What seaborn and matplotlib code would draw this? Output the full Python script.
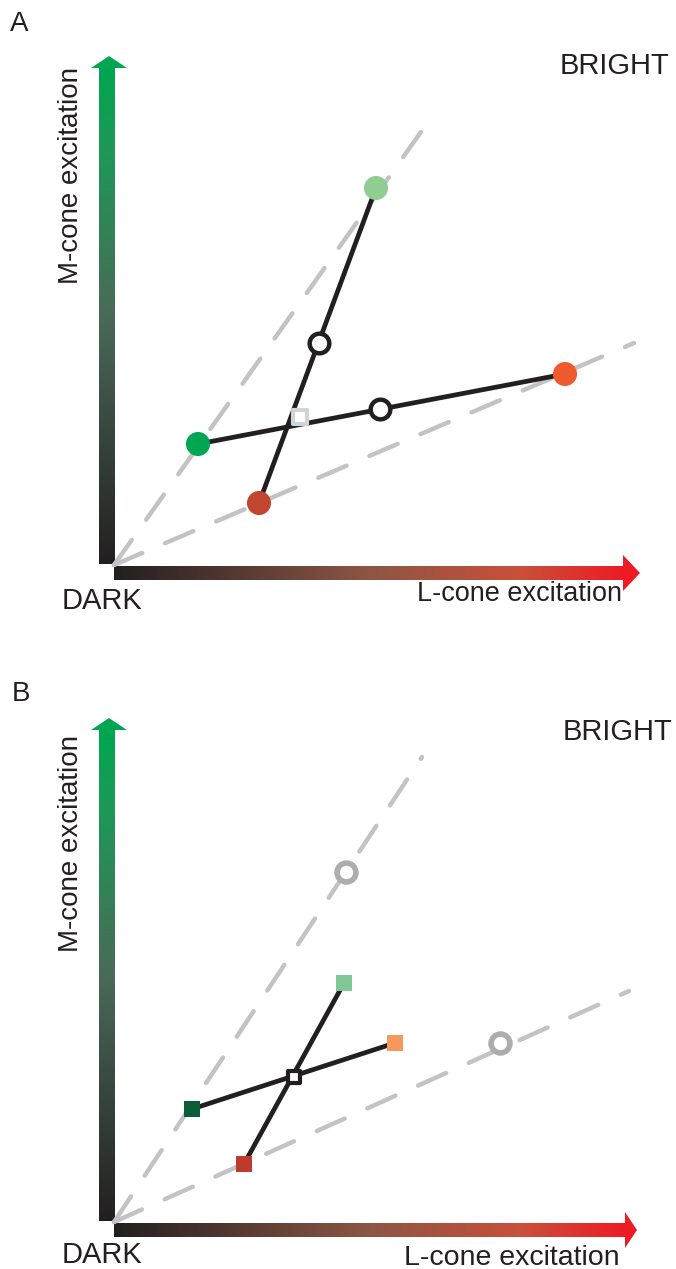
import numpy as np
import matplotlib.pyplot as plt
from matplotlib.colors import LinearSegmentedColormap
import seaborn as sns

sns.set_theme(style="white")
plt.rcParams['font.family'] = ['Liberation Sans', 'DejaVu Sans']

# ---------------- data (pixel units measured from the DARK corner) ----------------
# x = L-cone excitation, y = M-cone excitation

# panel A : two pairs of coloured lights, joined by black lines
a_dot_x = [262, 84, 145, 451]
a_dot_y = [377, 121, 62, 191]
a_dot_colors = ["#90cd90", "#00a651", "#c1452f", "#f05a2f"]
a_pairs = [(0, 2), (1, 3)]
a_mid_x = [205, 266]
a_mid_y = [222, 156]
a_cross_x = [186]
a_cross_y = [148]
a_ray_x = [314, 520]
a_ray_y = [443, 222]

# panel B : squares, the crossing square and the two grey "ghost" circles
b_sq_x = [78, 130, 230, 281]
b_sq_y = [113, 58, 239, 179]
b_sq_colors = ["#0b5e35", "#c0392d", "#80c896", "#f5995c"]
b_pairs = [(0, 3), (1, 2)]
b_cross_x = [180]
b_cross_y = [145]
b_ghost_x = [232, 386]
b_ghost_y = [350, 179]
b_ghost_from = [2, 3]  # which square each dotted line starts at
b_ray_x = [308, 515]
b_ray_y = [465, 231]

GREY = "#c3c3c5"
INK = "#231f20"
cmap_L = LinearSegmentedColormap.from_list(
    "L", [(0, "#231f20"), (0.5, "#8c5645"), (0.8, "#c9503a"), (1, "#ed1c24")])
cmap_M = LinearSegmentedColormap.from_list(
    "M", [(0, "#231f20"), (0.5, "#4a6a58"), (0.85, "#1c9a57"), (1, "#00a651")])


def draw_frame(ax, v_top, v_head, h_end, h_head, txt):
    # gradient axes arrows
    grad = np.linspace(0, 1, 256)
    ax.imshow(grad.reshape(-1, 1), cmap=cmap_M, origin="lower", aspect="auto",
              extent=[-15, 1, 1, v_head], zorder=1)
    ax.fill([-23, 13, -5], [v_head, v_head, v_top], color="#00a651", lw=0, zorder=1)
    ax.imshow(grad.reshape(1, -1), cmap=cmap_L, aspect="auto",
              extent=[0, h_head, -15, -1], zorder=1)
    ax.fill([h_head, h_head, h_end], [10, -26, -8], color="#ed1c24", lw=0, zorder=1)

    ax.text(txt["bright"][0], txt["bright"][1], "BRIGHT", ha="right", va="center",
            fontsize=21, color=INK)
    ax.text(txt["dark"][0], txt["dark"][1], "DARK", ha="right", va="center",
            fontsize=21, color=INK)
    ax.text(txt["L"][0], txt["L"][1], "L-cone excitation", ha="right", va="center",
            fontsize=txt["Lsize"], color=INK)
    ax.text(txt["M"][0], txt["M"][1], "M-cone excitation", ha="center", va="center",
            rotation=90, fontsize=20, color=INK)


def draw_rays(ax, xs, ys):
    for x1, y1 in zip(xs, ys):
        ax.plot([0, x1], [0, y1], color=GREY, lw=3.2, linestyle=(0, (6.9, 5.6)),
                dash_capstyle="round", zorder=2)


fig = plt.figure(figsize=(6.76, 12.69), dpi=100)

# ---------------- panel A ----------------
axA = fig.add_axes([0, 629 / 1269, 1, 640 / 1269])
draw_frame(axA, v_top=509, v_head=497, h_end=526, h_head=509,
           txt={"bright": (555, 499), "dark": (28, -36), "L": (508, -29), "Lsize": 19.5,
                "M": (-43, 389)})
draw_rays(axA, a_ray_x, a_ray_y)
for i, j in a_pairs:
    sns.lineplot(x=[a_dot_x[i], a_dot_x[j]], y=[a_dot_y[i], a_dot_y[j]], ax=axA,
                 color=INK, lw=3.4, sort=False, estimator=None, zorder=3)
sns.scatterplot(x=a_dot_x, y=a_dot_y, hue=a_dot_colors, palette=a_dot_colors,
                s=300, linewidth=0, legend=False, ax=axA, zorder=4)
sns.scatterplot(x=a_mid_x, y=a_mid_y, color="white", edgecolor=INK,
                s=200, linewidth=3.2, legend=False, ax=axA, zorder=5)
sns.scatterplot(x=a_cross_x, y=a_cross_y, marker="s", color="white", edgecolor="#cfd3da",
                s=110, linewidth=3.0, legend=False, ax=axA, zorder=5)
axA.set_xlim(-114, 562)
axA.set_ylim(-75, 565)
axA.set_axis_off()

# ---------------- panel B ----------------
axB = fig.add_axes([0, 0, 1, 629 / 1269])
draw_frame(axB, v_top=504, v_head=492, h_end=523, h_head=511,
           txt={"bright": (558, 490), "dark": (28, -33), "L": (506, -36), "Lsize": 20.5,
                "M": (-43, 379)})
draw_rays(axB, b_ray_x, b_ray_y)
for k, g in enumerate(b_ghost_from):
    axB.plot([b_sq_x[g], b_ghost_x[k]], [b_sq_y[g], b_ghost_y[k]], color=GREY, lw=2.9,
             linestyle=(0, (0, 2.4)), dash_capstyle="round", zorder=2)
for i, j in b_pairs:
    sns.lineplot(x=[b_sq_x[i], b_sq_x[j]], y=[b_sq_y[i], b_sq_y[j]], ax=axB,
                 color=INK, lw=3.4, sort=False, estimator=None, zorder=3)
sns.scatterplot(x=b_sq_x, y=b_sq_y, hue=b_sq_colors, palette=b_sq_colors, marker="s",
                s=117, linewidth=0, legend=False, ax=axB, zorder=4)
sns.scatterplot(x=b_cross_x, y=b_cross_y, marker="s", color="white", edgecolor=INK,
                s=72, linewidth=3.0, legend=False, ax=axB, zorder=5)
sns.scatterplot(x=b_ghost_x, y=b_ghost_y, color="white", edgecolor="#adadb1",
                s=185, linewidth=4.0, legend=False, ax=axB, zorder=5)
axB.set_xlim(-114, 562)
axB.set_ylim(-47, 582)
axB.set_axis_off()

fig.text(10 / 676, 1 - 24 / 1269, "A", fontsize=20, color=INK, va="center", ha="left")
fig.text(12 / 676, 1 - 694 / 1269, "B", fontsize=20, color=INK, va="center", ha="left")

fig.savefig("out.png", dpi=100)
